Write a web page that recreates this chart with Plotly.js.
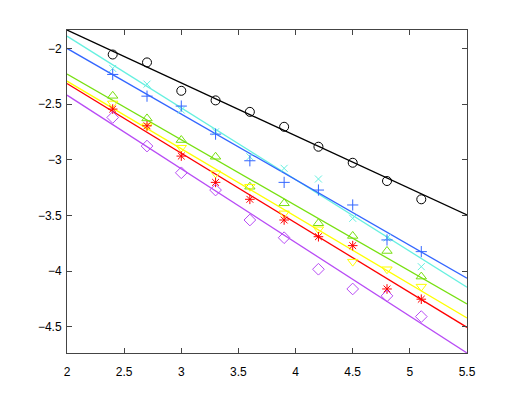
<!DOCTYPE html>
<html>
<head>
<meta charset="utf-8">
<script src="https://cdn.plot.ly/plotly-3.0.1.min.js"></script>
<style>
  html, body { margin: 0; padding: 0; background: #fff; }
  #plot { width: 515px; height: 399px; }
</style>
</head>
<body>
<div id="plot"></div>
<script>
// sample positions (same for every series)
const xs = [2.4, 2.7, 3.0, 3.3, 3.6, 3.9, 4.2, 4.5, 4.8, 5.1];

// measured points, one array per series
const sBlack  = [-2.055, -2.126, -2.381, -2.467, -2.570, -2.704, -2.883, -3.027, -3.191, -3.355];
const sCyan   = [-2.180, -2.321, -2.554, -2.749, -2.973, -3.077, -3.173, -3.526, -3.702, -3.960];
const sBlue   = [-2.234, -2.429, -2.518, -2.770, -3.009, -3.203, -3.272, -3.406, -3.720, -3.825];
const sGreen  = [-2.426, -2.629, -2.823, -2.973, -3.242, -3.391, -3.570, -3.684, -3.819, -4.049];
const sYellow = [-2.494, -2.698, -2.892, -3.122, -3.242, -3.481, -3.624, -3.915, -3.983, -4.139];
const sRed    = [-2.545, -2.695, -2.967, -3.203, -3.355, -3.541, -3.691, -3.771, -4.160, -4.252];
const sPurple = [-2.620, -2.877, -3.117, -3.272, -3.541, -3.700, -3.983, -4.160, -4.222, -4.408];

// fitted lines: value at the left end and at the right end of the x range
const fitX     = [2, 5.5];
const fitBlack  = [-1.835, -3.496];
const fitCyan   = [-1.890, -4.144];
const fitBlue   = [-2.000, -4.064];
const fitGreen  = [-2.231, -4.294];
const fitYellow = [-2.294, -4.420];
const fitRed    = [-2.315, -4.505];
const fitPurple = [-2.420, -4.735];

const xTicks = [2, 2.5, 3, 3.5, 4, 4.5, 5, 5.5];
const yTicks = [-4.5, -4, -3.5, -3, -2.5, -2];

const series = [
  { pts: sBlack,  fit: fitBlack,  color: "#000000", symbol: "circle-open",        size: 9 },
  { pts: sCyan,   fit: fitCyan,   color: "#66f0e0", symbol: "x-thin-open",        size: 7 },
  { pts: sBlue,   fit: fitBlue,   color: "#3366ff", symbol: "cross-thin-open",    size: 8 },
  { pts: sGreen,  fit: fitGreen,  color: "#77e010", symbol: "triangle-up-open",   size: 9 },
  { pts: sYellow, fit: fitYellow, color: "#ffff00", symbol: "triangle-down-open", size: 9 },
  { pts: sRed,    fit: fitRed,    color: "#ff0000", symbol: "asterisk-open",      size: 8 },
  { pts: sPurple, fit: fitPurple, color: "#b84cf5", symbol: "diamond-open",       size: 9 },
];

const traces = [];
series.forEach(s => {
  traces.push({
    x: fitX, y: s.fit, mode: "lines",
    line: { color: s.color, width: 1.3 },
    hoverinfo: "skip"
  });
});
series.forEach(s => {
  traces.push({
    x: xs, y: s.pts, mode: "markers",
    marker: { symbol: s.symbol, size: s.size, color: s.color, line: { color: s.color, width: 1 } }
  });
});

const axisStyle = {
  showgrid: false, zeroline: false,
  showline: true, mirror: "ticks", linecolor: "#444", linewidth: 1,
  ticks: "inside", ticklen: 5, tickcolor: "#444",
  tickfont: { family: "Liberation Sans, Arial, sans-serif", size: 12, color: "#000" }
};

Plotly.newPlot("plot", traces, {
  width: 515, height: 399,
  showlegend: false,
  paper_bgcolor: "#fff", plot_bgcolor: "#fff",
  margin: { l: 67, r: 48, t: 30, b: 46 },
  xaxis: Object.assign({}, axisStyle, { range: [2, 5.5], tickvals: xTicks, ticklabelstandoff: 8 }),
  yaxis: Object.assign({}, axisStyle, { range: [-4.735, -1.835], tickvals: yTicks, ticklabelstandoff: 2 })
}, { displayModeBar: false, staticPlot: true });
</script>
</body>
</html>
